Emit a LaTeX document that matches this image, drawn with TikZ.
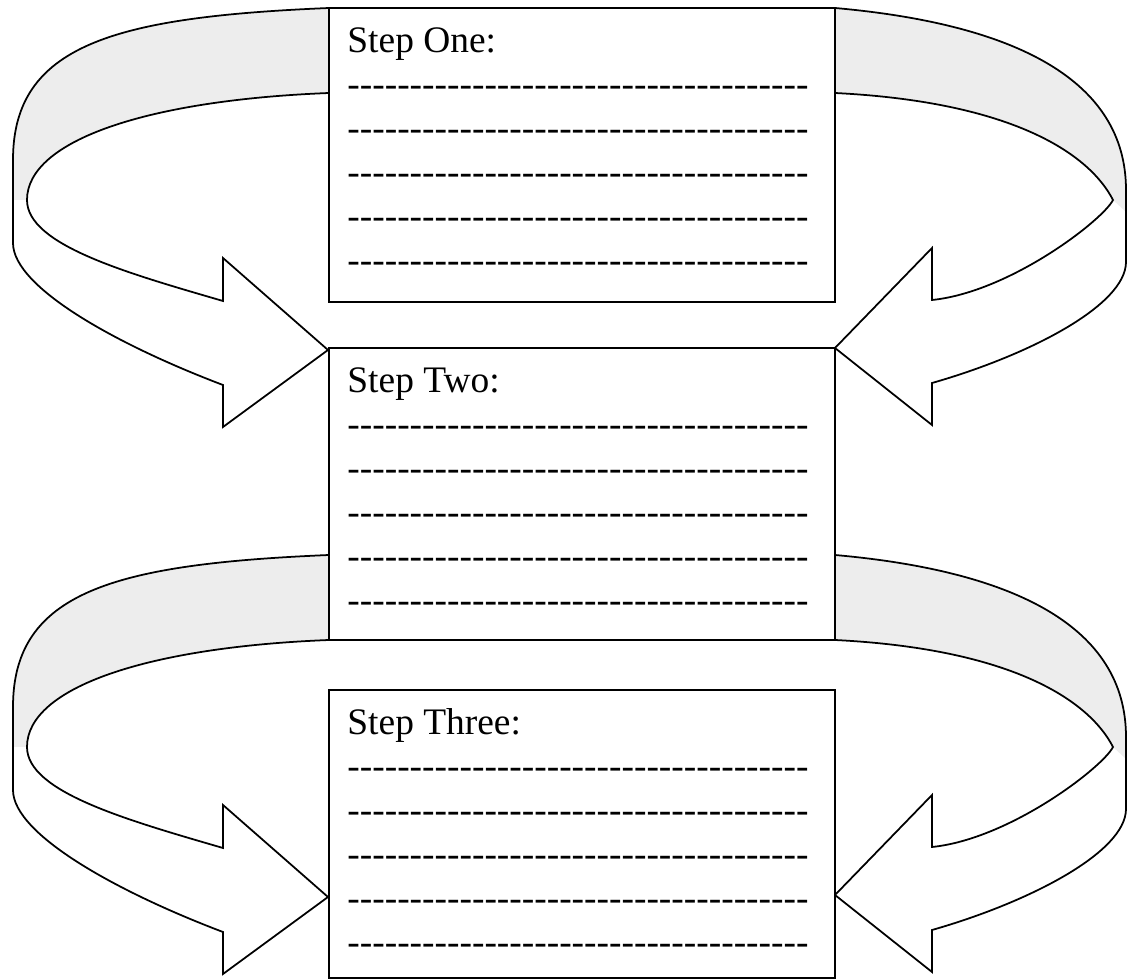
\documentclass[tikz,border=0pt]{standalone}
\usepackage{fontspec}
\setmainfont{Liberation Serif}[Ligatures=TeXOff]
\usetikzlibrary{positioning}

\tikzset{
  stepbox/.style={draw, line width=1.1pt, fill=white, inner sep=0pt, minimum width=10.12cm},
  steptext/.style={anchor=base west, inner sep=0pt, font=\fontsize{21.3}{25}\selectfont},
  band/.style={draw, line width=1pt, line join=miter},
  backside/.style={fill=black!7},
}
\newcommand{\writeline}{-------------------------------------}

\begin{document}
\begin{tikzpicture}[x=0.02cm, y=-0.02cm]
\useasboundingbox (0,0) rectangle (1127,979);

% the two curved bands (the lower one is the same band moved down)
\foreach \dy in {0,547} {
\begin{scope}[shift={(0,\dy)}]
  % left band, back side first
  \fill[backside] (329,8) .. controls (114,17) and (13,45) .. (13,160)
    -- (13,200) -- (27,200) .. controls (27,140) and (149,100) .. (329,93) -- cycle;
  \draw[band] (329,8) .. controls (114,17) and (13,45) .. (13,160)
    -- (13,243) .. controls (13,288) and (120,346) .. (223,385)
    -- (223,427) -- (328,350) -- (223,258) -- (223,301)
    .. controls (127,273) and (27,245) .. (27,200)
    .. controls (27,140) and (149,100) .. (329,93);
  % right band
  \fill[backside] (835,8) .. controls (1015,24) and (1126,80) .. (1126,190)
    -- (1126,212) -- (1113,200) .. controls (1090,155) and (1015,102) .. (835,93) -- cycle;
  \draw[band] (835,8) .. controls (1015,24) and (1126,80) .. (1126,190)
    -- (1126,262) .. controls (1126,305) and (1030,355) .. (932,383)
    -- (932,425) -- (835,348) -- (932,248) -- (932,300)
    .. controls (1010,292) and (1103,220) .. (1113,200)
    .. controls (1090,155) and (1015,102) .. (835,93);
\end{scope}
}

% the three boxes
\node[stepbox, minimum height=5.88cm] (one) at (582,155) {};
\node[stepbox, minimum height=5.84cm] (two) at (582,494) {};
\node[stepbox, minimum height=5.76cm] (three) at (582,834) {};

% heading and writing lines
\foreach \b/\txt in {one/Step One:, two/Step Two:, three/Step Three:} {
  \node[steptext] (\b-title) at ([shift={(19,45)}]\b.north west) {\txt};
  \foreach \k in {1,...,5}
    \node[steptext] (\b-\k) at ([shift={(0,44*\k)}]\b-title.base west) {\writeline};
}

\end{tikzpicture}
\end{document}
